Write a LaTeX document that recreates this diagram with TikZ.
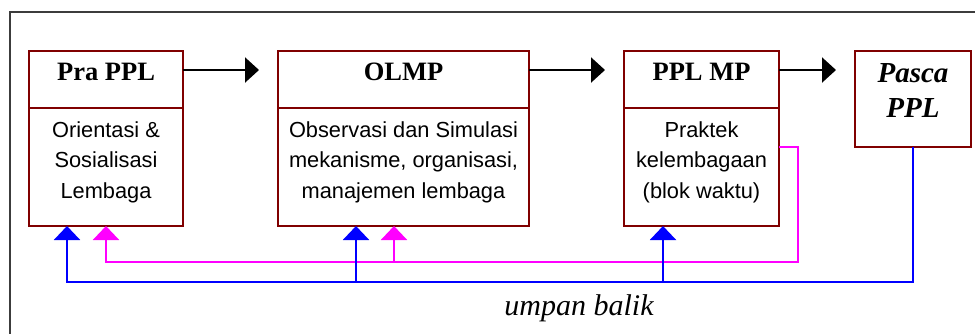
\documentclass[tikz,border=0pt]{standalone}
\usepackage{fontspec}
\setmainfont{Liberation Serif}
\setsansfont{Liberation Sans}
\usetikzlibrary{arrows.meta,positioning,calc}

\definecolor{boxred}{RGB}{128,0,0}
\definecolor{framegray}{RGB}{60,60,60}
\definecolor{fbmag}{RGB}{255,0,255}
\definecolor{fbblue}{RGB}{0,0,255}

\tikzset{
  cell/.style={draw=boxred, line width=2.3pt, inner sep=0pt, outer sep=0pt},
  head/.style={anchor=base, inner sep=0pt, font=\bfseries\fontsize{26.5}{30}\selectfont},
  bodytext/.style={anchor=base, inner sep=0pt, align=center, font=\sffamily\fontsize{21.8}{30.5}\selectfont},
  flow/.style={line width=2.2pt, -{Triangle[length=14pt,width=25pt]}},
  fb/.style={line width=2.2pt},
  fbtip/.style={-{Triangle[length=14pt,width=26pt]}}
}

\begin{document}
\begin{tikzpicture}[x=10pt,y=-10pt]
			\clip (0,0) rectangle (97.5,33.3);
			% outer frame
			\draw[framegray, line width=1.5pt] (1.0,1.2) rectangle (99,35);
			
			% Pra PPL
			\node[cell, minimum width=154pt, minimum height=57pt, anchor=north west] (pra) at (2.9,5.1) {};
			\node[cell, minimum width=154pt, minimum height=118pt, anchor=north] (praB) at (pra.south) {};
			\node[head] (praT) at ([yshift=-29pt]pra.north) {Pra PPL};
			\node[bodytext] (praX) at ([yshift=-90pt]praB.north) {Orientasi \&\\Sosialisasi\\Lembaga};
			
			% OLMP
			\node[cell, minimum width=251pt, minimum height=57pt, anchor=north west] (olmp) at (27.8,5.1) {};
			\node[cell, minimum width=251pt, minimum height=118pt, anchor=north] (olmpB) at (olmp.south) {};
			\node[head] (olmpT) at ([yshift=-29pt]olmp.north) {OLMP};
			\node[bodytext] (olmpX) at ([yshift=-90pt]olmpB.north) {Observasi dan Simulasi\\mekanisme, organisasi,\\manajemen lembaga};
			
			% PPL MP
			\node[cell, minimum width=155pt, minimum height=57pt, anchor=north west] (ppl) at (62.4,5.1) {};
			\node[cell, minimum width=155pt, minimum height=118pt, anchor=north] (pplB) at (ppl.south) {};
			\node[head] (pplT) at ([yshift=-29pt]ppl.north) {PPL MP};
			\node[bodytext] (pplX) at ([yshift=-90pt]pplB.north) {Praktek\\kelembagaan\\(blok waktu)};
			
			% Pasca PPL
			\node[cell, minimum width=116pt, minimum height=96pt, anchor=north west] (pasca) at (85.5,5.1) {};
			\node[head, align=center, font=\bfseries\itshape\fontsize{29}{35}\selectfont] (pascaT) at ([yshift=-66pt]pasca.north) {Pasca\\PPL};
			
			% main flow
			\draw[flow] ([yshift=9.5pt]pra.east) -- ([xshift=-19pt,yshift=9.5pt]olmp.west);
			\draw[flow] ([yshift=9.5pt]olmp.east) -- ([xshift=-19pt,yshift=9.5pt]ppl.west);
			\draw[flow] ([yshift=9.5pt]ppl.east) -- ([xshift=-19pt,yshift=-19pt]pasca.north west);
			
			% feedback (magenta)
			\draw[fb, fbmag, fbtip] ([yshift=-39pt]pplB.north east) -- ++(1.9,0) -- ++(0,11.5) -| (praB.south);
			\draw[fb, fbmag, fbtip] ([xshift=-9.5pt,yshift=-36pt]olmpB.south) -- ([xshift=-9.5pt]olmpB.south);
			
			% feedback (blue)
			\draw[fb, fbblue, fbtip] (pasca.south) -- ++(0,13.5) -| ([xshift=-39pt]praB.south);
			\draw[fb, fbblue, fbtip] ([xshift=-47.5pt,yshift=-56pt]olmpB.south) -- ([xshift=-47.5pt]olmpB.south);
			\draw[fb, fbblue, fbtip] ([xshift=-38.5pt,yshift=-56pt]pplB.south) -- ([xshift=-38.5pt]pplB.south);
			
			\node[anchor=base, font=\itshape\fontsize{30}{34}\selectfont] (umpan) at (57.9,31.5) {umpan balik};
		\end{tikzpicture}
\end{document}
